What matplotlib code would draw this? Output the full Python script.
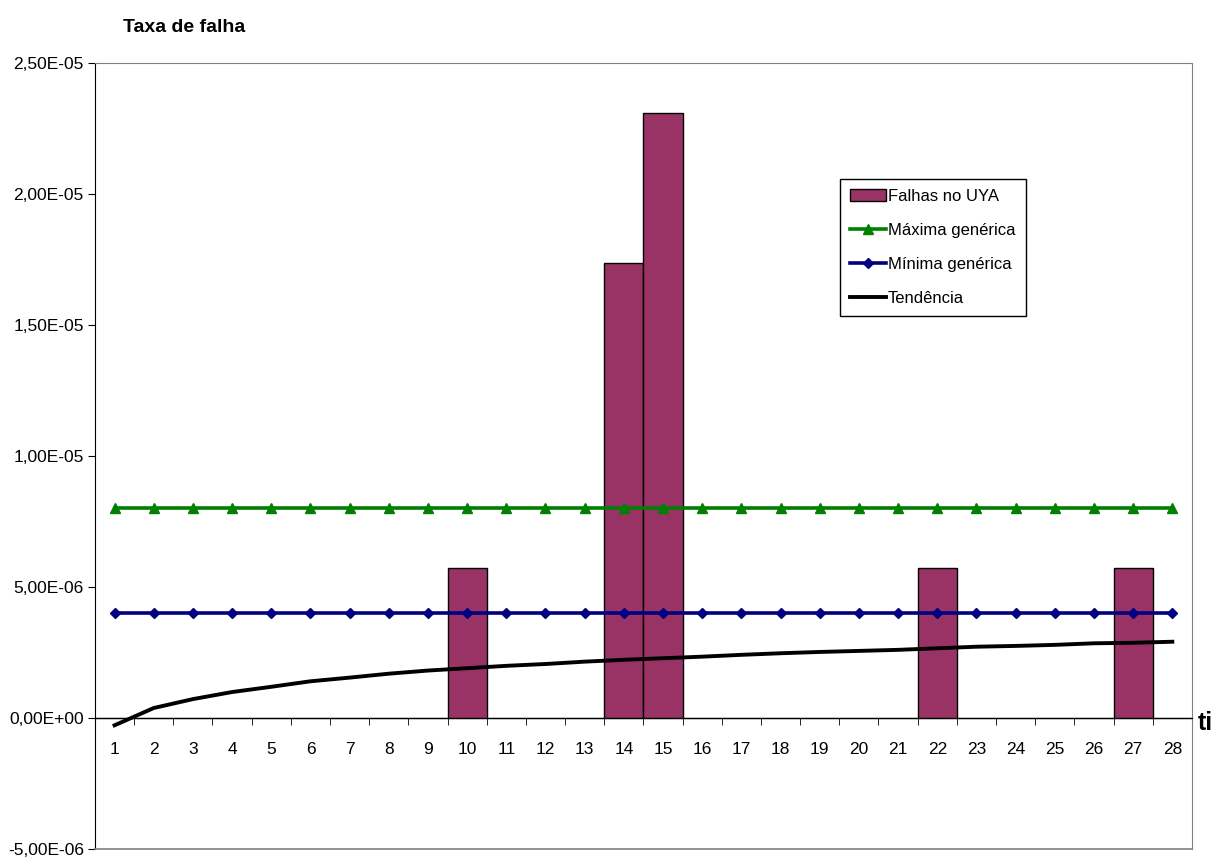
import numpy as np
import matplotlib
matplotlib.use("Agg")
import matplotlib.pyplot as plt
from matplotlib.ticker import FixedLocator, FuncFormatter

plt.rcParams['font.family'] = ['Liberation Sans', 'DejaVu Sans']

# dados
periodos = list(range(1, 29))
falhas_uya = [0, 0, 0, 0, 0, 0, 0, 0, 0, 5.73e-6, 0, 0, 0, 1.735e-5, 2.31e-5,
              0, 0, 0, 0, 0, 0, 5.73e-6, 0, 0, 0, 0, 5.73e-6, 0]
maxima_generica = [8.0e-6] * 28
minima_generica = [4.0e-6] * 28
tendencia = [-0.28e-6, 0.38e-6, 0.72e-6, 0.99e-6, 1.19e-6, 1.40e-6, 1.54e-6,
             1.69e-6, 1.81e-6, 1.90e-6, 1.99e-6, 2.06e-6, 2.15e-6, 2.22e-6,
             2.28e-6, 2.34e-6, 2.41e-6, 2.47e-6, 2.52e-6, 2.56e-6, 2.60e-6,
             2.66e-6, 2.72e-6, 2.75e-6, 2.79e-6, 2.85e-6, 2.87e-6, 2.91e-6]
y_ticks = [-5e-6, 0, 5e-6, 1e-5, 1.5e-5, 2e-5, 2.5e-5]

fig = plt.figure(figsize=(12.27, 8.64), dpi=100)
ax = fig.add_axes([0.0774, 0.0174, 0.894, 0.9097])

x = np.array(periodos)
b = ax.bar(x, falhas_uya, width=1.0, color='#993366', edgecolor='black',
           linewidth=1.0, zorder=2, label='Falhas no UYA')
l1, = ax.plot(x, maxima_generica, color='#008000', lw=2.6, marker='^', ms=7.5,
              zorder=3, label='Máxima genérica')
l2, = ax.plot(x, minima_generica, color='#000080', lw=2.6, marker='D', ms=5.5,
              zorder=3, label='Mínima genérica')
l3, = ax.plot(x, tendencia, color='black', lw=2.8, zorder=4, label='Tendência')

ax.set_xlim(0.5, 28.5)
ax.set_ylim(-5e-6, 2.5e-5)

# eixo x cruzando em zero
for s in ['top', 'right']:
    ax.spines[s].set_color('#808080')
ax.spines['left'].set_color('black')
ax.spines['bottom'].set_position(('data', 0))
ax.spines['bottom'].set_color('black')
ax.plot([0, 1], [0, 0], transform=ax.transAxes, color='#808080', lw=1.2,
        clip_on=False, zorder=5)

ax.xaxis.set_major_locator(FixedLocator(periodos))
ax.xaxis.set_minor_locator(FixedLocator(np.arange(1.5, 28, 1.0)))
ax.tick_params(axis='x', which='major', length=0, pad=17, labelsize=12.5)
ax.tick_params(axis='x', which='minor', length=5, direction='out', color='black')

ax.yaxis.set_major_locator(FixedLocator(y_ticks))
ax.yaxis.set_major_formatter(FuncFormatter(
    lambda v, p: ('%.2E' % v).replace('.', ',')))
ax.tick_params(axis='y', length=5, direction='out', labelsize=12.5, pad=3)

fig.text(0.100, 0.968, 'Taxa de falha', fontsize=14, fontweight='bold',
         ha='left', va='center')
fig.text(0.976, 0.163, 'ti', fontsize=18, fontweight='bold',
         ha='left', va='center')

leg = ax.legend([b, l1, l2, l3],
                ['Falhas no UYA', 'Máxima genérica', 'Mínima genérica', 'Tendência'],
                loc='upper left', bbox_to_anchor=(0.679, 0.853), fontsize=12,
                frameon=True, fancybox=False, framealpha=1, edgecolor='black',
                borderpad=0.6, labelspacing=1.15, handlelength=2.2,
                handletextpad=0.1, borderaxespad=0)
leg.get_frame().set_linewidth(1.0)

fig.savefig('out.png', dpi=100)
